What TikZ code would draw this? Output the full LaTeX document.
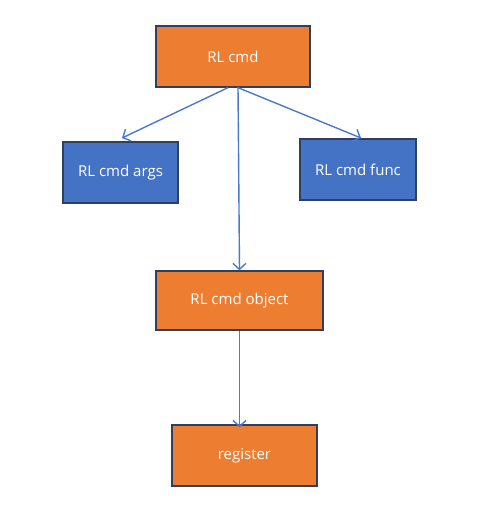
\documentclass[tikz,border=0pt]{standalone}
\usepackage{fontspec}
\setmainfont{Open Sans}
\usetikzlibrary{arrows.meta}
\definecolor{orng}{HTML}{ED7D31}
\definecolor{blu}{HTML}{4472C4}
\definecolor{edge}{HTML}{2F3F60}
\definecolor{arr}{HTML}{4A78D0}
\begin{document}
\begin{tikzpicture}[x=1pt,y=-1pt,
  box/.style={draw=edge,line width=1.3pt,text=white,font=\fontsize{15}{17}\selectfont,inner sep=0pt},
  obox/.style={box,fill=orng},
  bbox/.style={box,fill=blu},
  conn/.style={draw=arr,line width=1.4pt,-{Straight Barb[length=6pt,width=13pt,line width=1.4pt]}}]
\useasboundingbox (0,0) rectangle (495,516);
\node[obox,minimum width=154,minimum height=61] (cmd) at (233,56.5) {RL cmd};
\node[bbox,minimum width=115,minimum height=61] (args) at (120.5,172.5) {RL cmd args};
\node[bbox,minimum width=116,minimum height=61] (func) at (358,169.5) {RL cmd func};
\node[obox,minimum width=167,minimum height=59] (obj) at (239.5,300.5) {RL cmd object};
\node[obox,minimum width=145,minimum height=61] (reg) at (244.5,455.5) {register};
\coordinate (a1) at (122,138);
\coordinate (a2) at (361,138);
\coordinate (s1) at ([xshift=-5pt]cmd.south);
\coordinate (s2) at ([xshift=5pt]cmd.south);
\coordinate (s3) at (238,87);
\draw[conn] (s1) -- (a1);
\draw[conn] (s2) -- (a2);
\draw[conn] (s3) -- (obj.north);
\draw[conn] (obj.south) -- ([yshift=-3pt]obj.south |- reg.north);
\end{tikzpicture}
\end{document}
